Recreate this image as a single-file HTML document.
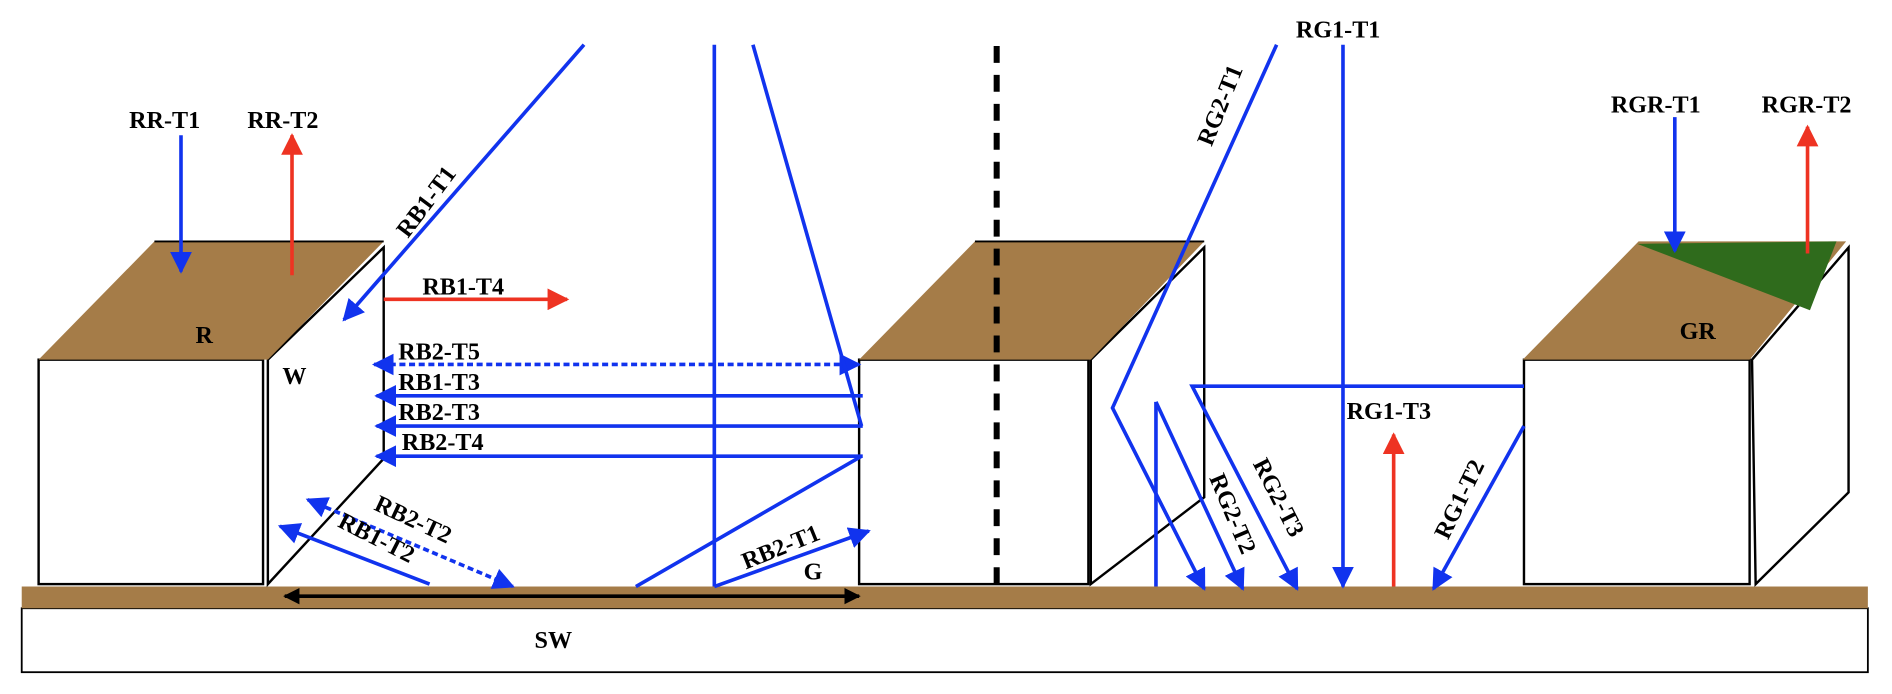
<!DOCTYPE html>
<html><head><style>html,body{margin:0;padding:0;background:#fff}svg{display:block}</style></head><body>
<svg width="1892" height="694" viewBox="0 0 1568 575" xmlns="http://www.w3.org/2000/svg">
<defs>
<marker id="b" viewBox="0 0 10 10" refX="9" refY="5" markerWidth="6" markerHeight="6" orient="auto-start-reverse"><path d="M0,0L10,5L0,10z" fill="#1133ee"/></marker>
<marker id="r" viewBox="0 0 10 10" refX="9" refY="5" markerWidth="6" markerHeight="6" orient="auto-start-reverse"><path d="M0,0L10,5L0,10z" fill="#ee3322"/></marker>
<marker id="k" viewBox="0 0 10 10" refX="9" refY="5" markerWidth="4.5" markerHeight="4.5" orient="auto-start-reverse"><path d="M0,0L10,5L0,10z" fill="#000"/></marker>
</defs>
<g font-family="Liberation Serif, serif" font-weight="bold" font-size="20" fill="#000">
<rect x="18" y="504" width="1530" height="53" fill="#fff" stroke="#000" stroke-width="1.5"/>
<rect x="18" y="486" width="1530" height="18" fill="#a57c48"/>
<g stroke="#000" stroke-width="2" fill="#fff">
<path d="M222,298L318,205L318,380L222,484Z"/>
<rect x="32" y="298" width="186" height="186"/>
<path d="M904,298L998,205L998,412L904,484Z"/>
<rect x="712" y="298" width="190" height="186"/>
<path d="M1452,298L1532,205L1532,408L1455,484Z"/>
<rect x="1263" y="298" width="187" height="186"/>
</g>
<path d="M32,298L128,200L318,200L222,298Z" fill="#a57c48"/>
<path d="M712,298L808,200L998,200L904,298Z" fill="#a57c48"/>
<path d="M1262,298L1358,200L1530,200L1450,298Z" fill="#a57c48"/>
<path d="M1357,202L1522,200L1500,257Z" fill="#2f6b1c"/>
<line x1="128" y1="200" x2="318" y2="200" stroke="#000" stroke-width="1.5"/>
<line x1="808" y1="200" x2="998" y2="200" stroke="#000" stroke-width="1.5"/>
<line x1="826" y1="38" x2="826" y2="490" stroke="#000" stroke-width="5" stroke-dasharray="14,10"/>
<g stroke="#1133ee" stroke-width="3" fill="none">
<line x1="150" y1="112" x2="150" y2="225" marker-end="url(#b)"/>
<line x1="484" y1="37" x2="285" y2="265" marker-end="url(#b)"/>
<line x1="712" y1="302" x2="310" y2="302" stroke-dasharray="5,3" marker-end="url(#b)" marker-start="url(#b)"/>
<line x1="715" y1="328" x2="312" y2="328" marker-end="url(#b)"/>
<line x1="715" y1="353" x2="312" y2="353" marker-end="url(#b)"/>
<line x1="715" y1="378" x2="312" y2="378" marker-end="url(#b)"/>
<line x1="592" y1="37" x2="592" y2="486"/>
<line x1="624" y1="37" x2="714" y2="353"/>
<line x1="714" y1="378" x2="527" y2="486"/>
<line x1="592" y1="486" x2="720" y2="440" marker-end="url(#b)"/>
<line x1="356" y1="484" x2="232" y2="436" marker-end="url(#b)"/>
<line x1="255" y1="414" x2="425" y2="486" stroke-dasharray="5,3" marker-end="url(#b)" marker-start="url(#b)"/>
<line x1="1113" y1="37" x2="1113" y2="486" marker-end="url(#b)"/>
<polyline points="1058,37 922,338 998,488" marker-end="url(#b)"/>
<line x1="958" y1="333" x2="958" y2="486"/>
<line x1="958" y1="333" x2="1030" y2="488" marker-end="url(#b)"/>
<polyline points="1263,320 988,320 1075,488" marker-end="url(#b)"/>
<line x1="1263" y1="353" x2="1188" y2="488" marker-end="url(#b)"/>
<line x1="1388" y1="97" x2="1388" y2="208" marker-end="url(#b)"/>
</g>
<g stroke="#ee3322" stroke-width="3" fill="none">
<line x1="242" y1="228" x2="242" y2="112" marker-end="url(#r)"/>
<line x1="318" y1="248" x2="470" y2="248" marker-end="url(#r)"/>
<line x1="1155" y1="486" x2="1155" y2="360" marker-end="url(#r)"/>
<line x1="1498" y1="210" x2="1498" y2="105" marker-end="url(#r)"/>
</g>
<line x1="236" y1="494" x2="712" y2="494" stroke="#000" stroke-width="3" marker-end="url(#k)" marker-start="url(#k)"/>
<text x="107" y="106">RR-T1</text>
<text x="205" y="106">RR-T2</text>
<text x="162" y="284">R</text>
<text x="234" y="318">W</text>
<text x="350" y="244">RB1-T4</text>
<text x="330" y="298">RB2-T5</text>
<text x="330" y="323">RB1-T3</text>
<text x="330" y="348">RB2-T3</text>
<text x="333" y="373">RB2-T4</text>
<text x="666" y="480">G</text>
<text x="443" y="537">SW</text>
<text x="1074" y="31">RG1-T1</text>
<text x="1116" y="347">RG1-T3</text>
<text x="1335" y="93">RGR-T1</text>
<text x="1460" y="93">RGR-T2</text>
<text x="1392" y="281">GR</text>
<text transform="translate(338,198) rotate(-53)">RB1-T1</text>
<text transform="translate(279,436) rotate(27)">RB1-T2</text>
<text transform="translate(309,422) rotate(25)">RB2-T2</text>
<text transform="translate(618,472) rotate(-22)">RB2-T1</text>
<text transform="translate(1004,122) rotate(-68)">RG2-T1</text>
<text transform="translate(1002,396) rotate(67)">RG2-T2</text>
<text transform="translate(1038,384) rotate(63)">RG2-T3</text>
<text transform="translate(1200,448) rotate(-64)">RG1-T2</text>
</g>
</svg>
</body></html>
